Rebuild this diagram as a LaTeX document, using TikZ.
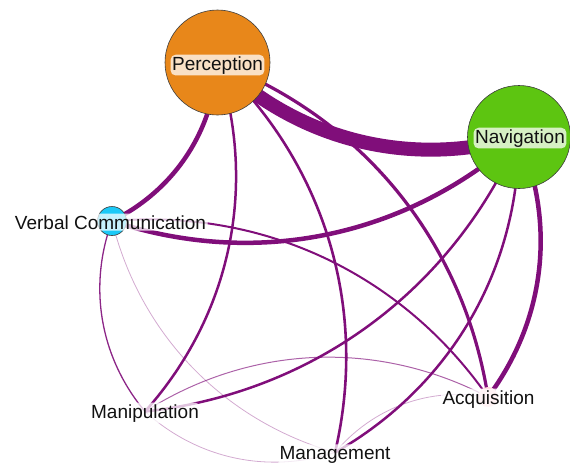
\documentclass[tikz,border=0pt]{standalone}
\usepackage{fontspec}
\setmainfont{Liberation Sans}
\usetikzlibrary{backgrounds}
\definecolor{edgec}{RGB}{128,14,122}
\definecolor{percol}{RGB}{232,135,26}
\definecolor{navcol}{RGB}{93,197,17}
\definecolor{vercol}{RGB}{28,201,247}
\definecolor{acqcol}{RGB}{255,208,216}
\definecolor{rimcol}{RGB}{60,60,60}
\definecolor{txtcol}{RGB}{17,17,17}
\begin{document}
\begin{tikzpicture}[x=1pt,y=1pt,
  bubble/.style={circle,draw=rimcol,line width=0.6pt,inner sep=0pt,minimum size=#1},
  lab/.style={anchor=base,fill=white,fill opacity=0.75,text opacity=1,rounded corners=5pt,inner sep=1.5pt,font=\fontsize{19}{22}\selectfont,text=txtcol},
  link/.style={draw=edgec,line width=#1,looseness=0.93},
  faint/.style={draw opacity=#1},
  ]
\useasboundingbox (0,0) rectangle (570,-467);
% node circles
\node[bubble=105pt,fill=percol] (P) at (217.5,-62.5) {};
\node[bubble=103pt,fill=navcol] (N) at (519,-137) {};
\node[bubble=29pt,fill=vercol] (V) at (112,-221) {};
\node[bubble=20pt,fill=acqcol,draw=none] (A) at (488,-397) {};
\node[inner sep=0pt,minimum size=0pt] (M) at (145,-411.5) {};
\node[inner sep=0pt,minimum size=0pt] (G) at (335,-452.5) {};
% edges
\begin{pgfonlayer}{background}
\draw[link=14] (P.center) to[bend right=30] (N.center);
\draw[link=4.5] (P.center) to[bend left=30] (V.center);
\draw[link=4.5] (N.center) to[bend left=30] (V.center);
\draw[link=4.5] (N.center) to[bend left=30] (A.center);
\draw[link=3.2] (P.center) to[bend left=30] (A.center);
\draw[link=2.6] (P.center) to[bend left=30] (G.center);
\draw[link=2.5] (P.center) to[bend left=30] (M.center);
\draw[link=2.5] (N.center) to[bend left=30] (M.center);
\draw[link=2.5] (N.center) to[bend left=30] (G.center);
\draw[link=2] (V.center) to[bend left=30] (A.center);
\draw[link=1.3,faint=0.9] (V.center) to[bend right=30] (M.center);
\draw[link=1.0,faint=0.65] (M.center) to[bend left=30] (A.center);
\draw[link=0.8,faint=0.35] (V.center) to[bend right=30] (G.center);
\draw[link=0.8,faint=0.35] (M.center) to[bend right=30] (G.center);
\draw[link=0.8,faint=0.35] (G.center) to[bend left=30] (A.center);
\end{pgfonlayer}
% labels
\node[lab] (Plab) at (217.5,-70) {Perception};
\node[lab] (Nlab) at (520,-143) {Navigation};
\node[lab] (Vlab) at (110.5,-229) {Verbal Communication};
\node[lab] (Alab) at (488.5,-404) {Acquisition};
\node[lab] (Mlab) at (145,-418) {Manipulation};
\node[lab] (Glab) at (335,-459) {Management};
\end{tikzpicture}
\end{document}
